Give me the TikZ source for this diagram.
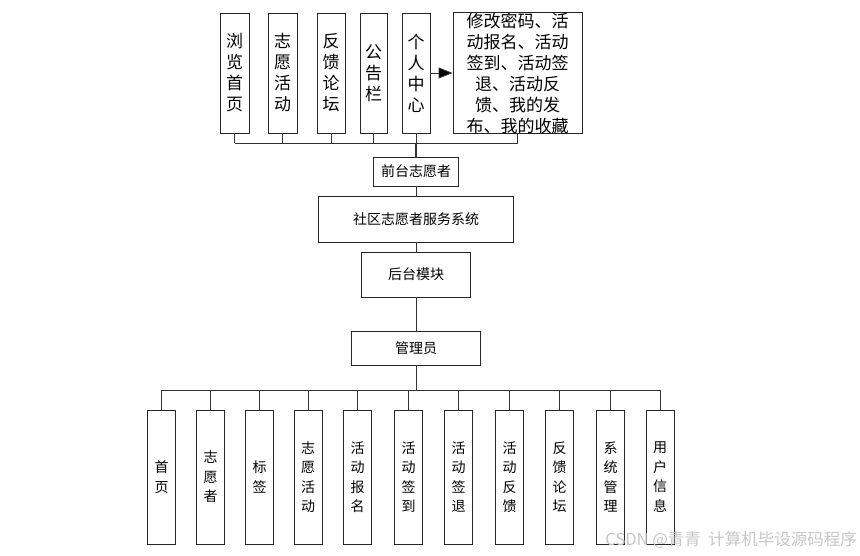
\documentclass[tikz,border=0pt]{standalone}
\usepackage{fontspec}
\setmainfont{Noto Sans CJK SC}
\usetikzlibrary{arrows.meta}
\begin{document}
\begin{tikzpicture}[x=1pt,y=-1pt,
  box/.style={draw=black!85, line width=0.9pt, fill=white, inner sep=0pt, align=center},
  topbox/.style={box, minimum width=28pt, minimum height=120pt, font=\fontsize{17}{21}\selectfont},
  midbox/.style={box, font=\fontsize{14}{16}\selectfont},
  botbox/.style={box, minimum width=28pt, minimum height=134pt, font=\fontsize{14}{19.5}\selectfont},
  conn/.style={draw=black!80, line width=0.9pt},
  wmark/.style={text=black!22, font=\fontsize{16.5}{18}\selectfont}]
\useasboundingbox (0,0) rectangle (860,555);
% top row
\node[topbox, minimum width=29pt] (t1) at (234.5,73) {浏\\览\\首\\页};
\node[topbox, minimum width=29pt] (t2) at (282.5,73) {志\\愿\\活\\动};
\node[topbox] (t3) at (331,73) {反\\馈\\论\\坛};
\node[topbox, minimum width=27pt] (t4) at (373.5,73) {公\\告\\栏};
\node[topbox] (t5) at (416,73) {个\\人\\中\\心};
\node[topbox, minimum width=129pt] (t6) at (517.5,73) {修改密码、活\\动报名、活动\\签到、活动签\\退、活动反\\馈、我的发\\布、我的收藏};
\draw[conn, -{Triangle[length=14pt,width=11pt,fill=black]}] (t5.east) -- (t6.west);
% middle
\node[midbox, minimum width=85pt, minimum height=29pt] (qt) at (416,171.5) {前台志愿者};
\node[midbox, minimum width=195pt, minimum height=46pt] (sys) at (416,219) {社区志愿者服务系统};
\node[midbox, minimum width=109pt, minimum height=45pt] (ht) at (416,274.5) {后台模块};
\node[midbox, minimum width=129pt, minimum height=34pt] (adm) at (416,348) {管理员};
% bottom row
\node[botbox] (b1) at (161.5,477) {首\\页};
\node[botbox] (b2) at (210.5,477) {志\\愿\\者};
\node[botbox] (b3) at (259.5,477) {标\\签};
\node[botbox] (b4) at (308,477) {志\\愿\\活\\动};
\node[botbox] (b5) at (357.5,477) {活\\动\\报\\名};
\node[botbox] (b6) at (408.5,477) {活\\动\\签\\到};
\node[botbox] (b7) at (458.5,477) {活\\动\\签\\退};
\node[botbox] (b8) at (509.5,477) {活\\动\\反\\馈};
\node[botbox] (b9) at (559.5,477) {反\\馈\\论\\坛};
\node[botbox] (b10) at (610.5,477) {系\\统\\管\\理};
\node[botbox] (b11) at (660,477) {用\\户\\信\\息};
% top bus
\coordinate (busT) at (416,143);
\draw[conn] (t1.south |- busT) -- (t6.south |- busT);
\foreach \n in {t1,t2,t3,t4,t5,t6} \draw[conn] (\n.south) -- (\n.south |- busT);
\draw[conn, line width=1.4pt] (t5.south |- busT) -- (qt.north);
% middle chain
\draw[conn] (qt.south) -- (sys.north);
\draw[conn] (sys.south) -- (ht.north);
\draw[conn] (ht.south) -- (adm.north);
% bottom bus
\coordinate (busB) at (416,390);
\draw[conn] (adm.south) -- (adm.south |- busB);
\draw[conn] (b1.north |- busB) -- (b11.north |- busB);
\foreach \n in {b1,b2,b3,b4,b5,b6,b7,b8,b9,b10,b11} \draw[conn] (\n.north |- busB) -- (\n.north);
% watermark
\node[wmark, anchor=east, inner sep=0pt] (wm) at (857,540) {CSDN @青青\ \ 计算机毕设源码程序};
\end{tikzpicture}
\end{document}
